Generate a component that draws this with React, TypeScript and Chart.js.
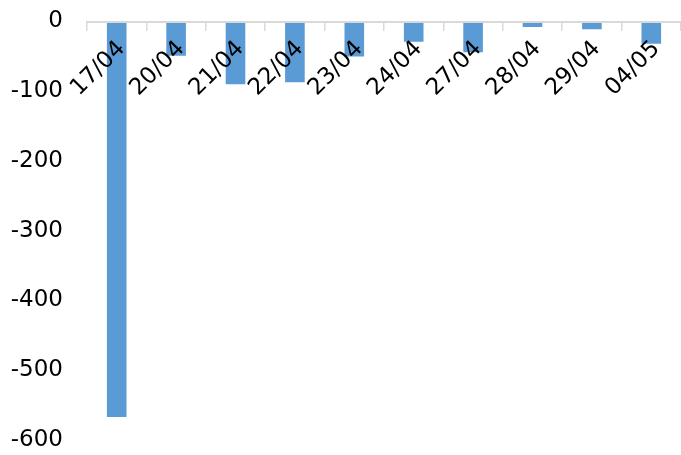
import React, { useEffect, useRef } from "react";
import { Chart, registerables } from "chart.js";

Chart.register(...registerables);

const categories = ["17/04", "20/04", "21/04", "22/04", "23/04", "24/04", "27/04", "28/04", "29/04", "04/05"];
const values = [-567, -49, -90, -87, -50, -29, -44, -8, -11, -32];
const yTicks = [0, -100, -200, -300, -400, -500, -600];

export default function App() {
  const ref = useRef<HTMLCanvasElement | null>(null);
  useEffect(() => {
    if (!ref.current) return;
    const chart = new Chart(ref.current, {
      type: "bar",
      data: {
        labels: categories,
        datasets: [
          {
            data: values,
            backgroundColor: "#5B9BD5",
            barPercentage: 0.33,
            categoryPercentage: 1,
          },
        ],
      },
      options: {
        animation: false,
        responsive: false,
        maintainAspectRatio: false,
        layout: { padding: { left: 0, right: 0, top: 21.5, bottom: 15 } },
        plugins: { legend: { display: false }, tooltip: { enabled: false } },
        scales: {
          x: {
            position: { y: 0 } as any,
            offset: true,
            afterFit: (s: any) => {
              s.height = 0;
              s.paddingLeft = 0;
              s.paddingRight = 0;
            },
            grid: {
              display: true,
              drawOnChartArea: false,
              drawTicks: true,
              tickLength: 8,
              color: "#D9D9D9",
              lineWidth: 1.5,
              offset: true,
            },
            border: { display: true, color: "#D9D9D9", width: 2, z: 1 },
            ticks: {
              z: 2,
              autoSkip: false,
              minRotation: 45,
              maxRotation: 45,
              padding: 6,
              labelOffset: 5,
              color: "#000000",
              font: { family: "DejaVu Sans", size: 23 },
            },
          },
          y: {
            min: -600,
            max: 0,
            afterBuildTicks: (s: any) => {
              s.ticks = yTicks.map((v) => ({ value: v }));
            },
            afterFit: (s: any) => {
              s.width = 87;
            },
            grid: {
              display: true,
              drawOnChartArea: false,
              drawTicks: true,
              tickLength: 23,
              color: "rgba(0,0,0,0)",
            },
            border: { display: false },
            ticks: {
              padding: 1,
              color: "#000000",
              font: { family: "DejaVu Sans", size: 23, lineHeight: 1 },
              callback: (v: any) => String(v),
            },
          },
        },
      },
    });
    return () => chart.destroy();
  }, []);
  return (
    <div style={{ position: "fixed", left: 0, top: 0, width: 681, height: 455, background: "#fff" }}>
      <canvas ref={ref} width={681} height={455} style={{ width: 681, height: 455 }} />
    </div>
  );
}
